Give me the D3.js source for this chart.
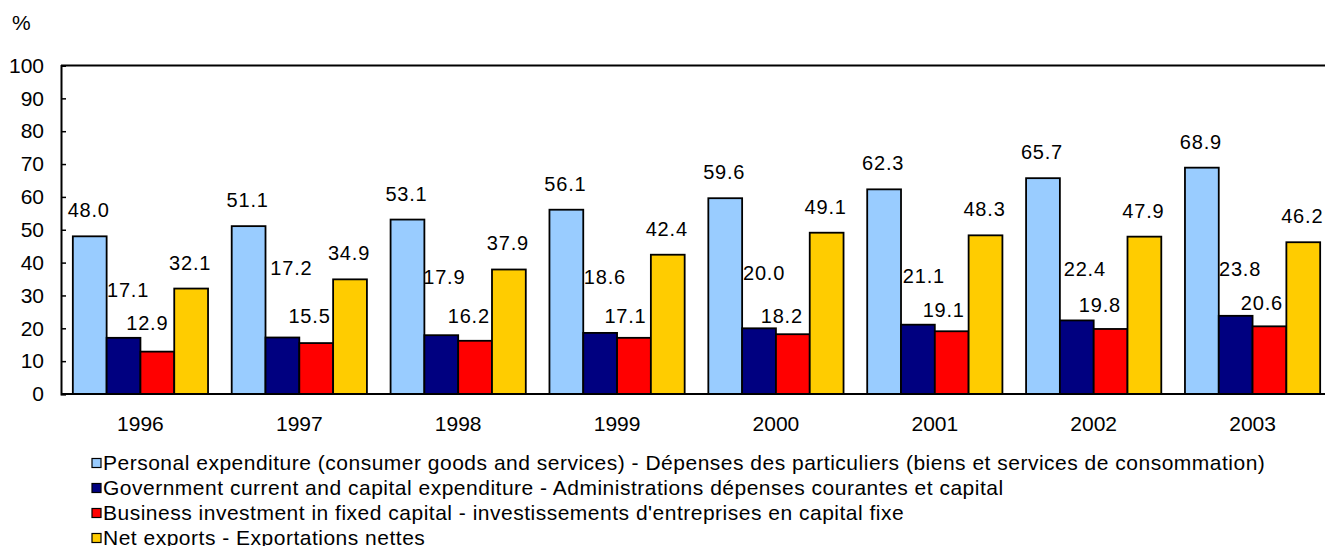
<!DOCTYPE html>
<html>
<head>
<meta charset="utf-8">
<script src="https://cdn.jsdelivr.net/npm/d3@7"></script>
<style>
  html, body { margin: 0; padding: 0; background: #ffffff; }
  svg { display: block; }
  text { font-family: "Liberation Sans", Arial, sans-serif; fill: #000; }
</style>
</head>
<body>
<svg id="chart" width="1325" height="546"></svg>
<script>
// ---- Data ----
const years = ["1996", "1997", "1998", "1999", "2000", "2001", "2002", "2003"];
const personal   = [48.0, 51.1, 53.1, 56.1, 59.6, 62.3, 65.7, 68.9];
const government = [17.1, 17.2, 17.9, 18.6, 20.0, 21.1, 22.4, 23.8];
const business   = [12.9, 15.5, 16.2, 17.1, 18.2, 19.1, 19.8, 20.6];
const netExports = [32.1, 34.9, 37.9, 42.4, 49.1, 48.3, 47.9, 46.2];
const seriesNames = [
  "Personal expenditure (consumer goods and services) - Dépenses des particuliers (biens et services de consommation)",
  "Government current and capital expenditure - Administrations dépenses courantes et capital",
  "Business investment in fixed capital - investissements d'entreprises en capital fixe",
  "Net exports - Exportations nettes"
];
const yTicks = [0, 10, 20, 30, 40, 50, 60, 70, 80, 90, 100];
const unitLabel = "%";

// ---- Layout / style (not data) ----
const colors = ["#99CCFF", "#000080", "#FF0000", "#FFCC00"];
const seriesValues = [personal, government, business, netExports];
// label placement per series: [dx from bar centre, gap from bar top to baseline]
const defaultLabel = [-1, 19];
const labelPlacement = [
  null,
  [[4.5, 40.6], [9, 62], [3, 50.7], [4.7, 49.3], [5, 48.3], [6, 41.7], [8, 44], [4.4, 40]],
  [[-10, 21.3], [-6.7, 20], [-6.3, 17.3], [-8.5, 15], [-11, 11.7], [-8, 14.3], [-10.7, 16.7], [-7.6, 16]],
  null
];

const svg = d3.select("#chart");
const plot = { left: 61, right: 1332, top: 65.5, bottom: 394 };

const x = d3.scaleBand().domain(years).range([plot.left, plot.right]).paddingInner(0).paddingOuter(0);
const gapRatio = 0.7;
const barW = x.bandwidth() / (4 + gapRatio);
const xs = d3.scaleBand().domain(d3.range(4)).range([barW * gapRatio / 2, barW * gapRatio / 2 + barW * 4]).padding(0);
const y = d3.scaleLinear().domain([0, 100]).range([plot.bottom, plot.top]);

// top border line
svg.append("line")
  .attr("x1", plot.left).attr("x2", 1325)
  .attr("y1", y(100)).attr("y2", y(100))
  .attr("stroke", "#000").attr("stroke-width", 2);

// bars
const rows = [];
years.forEach((yr, i) => {
  seriesValues.forEach((vals, s) => rows.push({ year: yr, i, s, v: vals[i] }));
});

svg.append("g").selectAll("rect").data(rows).join("rect")
  .attr("x", d => x(d.year) + xs(d.s))
  .attr("y", d => y(d.v))
  .attr("width", xs.bandwidth())
  .attr("height", d => y(0) - y(d.v))
  .attr("fill", d => colors[d.s])
  .attr("stroke", "#000")
  .attr("stroke-width", 1.8);

// value labels
svg.append("g").selectAll("text").data(rows).join("text")
  .attr("x", d => {
    const p = labelPlacement[d.s] ? labelPlacement[d.s][d.i] : defaultLabel;
    return x(d.year) + xs(d.s) + xs.bandwidth() / 2 + p[0];
  })
  .attr("y", d => {
    const p = labelPlacement[d.s] ? labelPlacement[d.s][d.i] : defaultLabel;
    return y(d.v) - p[1];
  })
  .attr("text-anchor", "middle")
  .style("font-size", "20px")
  .style("letter-spacing", "0.8px")
  .text(d => d3.format(".1f")(d.v));

// y axis
const yAxis = d3.axisLeft(y).tickValues(yTicks).tickSize(-5).tickPadding(17).tickFormat(d3.format("d"));
const gy = svg.append("g").attr("transform", `translate(${plot.left},0)`).call(yAxis);
gy.select(".domain").attr("stroke", "#000").attr("stroke-width", 2);
gy.selectAll(".tick line").attr("stroke", "#000").attr("stroke-width", 1.5);
gy.selectAll(".tick text").style("font-size", "21px").style("font-family", "'Liberation Sans', Arial, sans-serif").attr("fill", "#000");

// x axis
const xAxis = d3.axisBottom(x).tickSize(0).tickPadding(22);
const gx = svg.append("g").attr("transform", `translate(0,${plot.bottom})`).call(xAxis);
gx.select(".domain").remove();
gx.selectAll(".tick text").style("font-size", "21px").style("font-family", "'Liberation Sans', Arial, sans-serif").attr("fill", "#000");
svg.append("line")
  .attr("x1", plot.left).attr("x2", 1325)
  .attr("y1", plot.bottom).attr("y2", plot.bottom)
  .attr("stroke", "#000").attr("stroke-width", 2);

// unit label
svg.append("text").attr("x", 12).attr("y", 30).style("font-size", "21px").text(unitLabel);

// legend
const lg = svg.append("g").selectAll("g").data(seriesNames).join("g")
  .attr("transform", (d, i) => `translate(0,${469.5 + i * 25})`);
lg.append("rect").attr("x", 92).attr("y", -11).attr("width", 9).attr("height", 9)
  .attr("fill", (d, i) => colors[i]).attr("stroke", "#000").attr("stroke-width", 1.2);
lg.append("text").attr("x", 103).attr("y", 0)
  .style("font-size", "21px").style("letter-spacing", "0.5px").text(d => d);
</script>
</body>
</html>
